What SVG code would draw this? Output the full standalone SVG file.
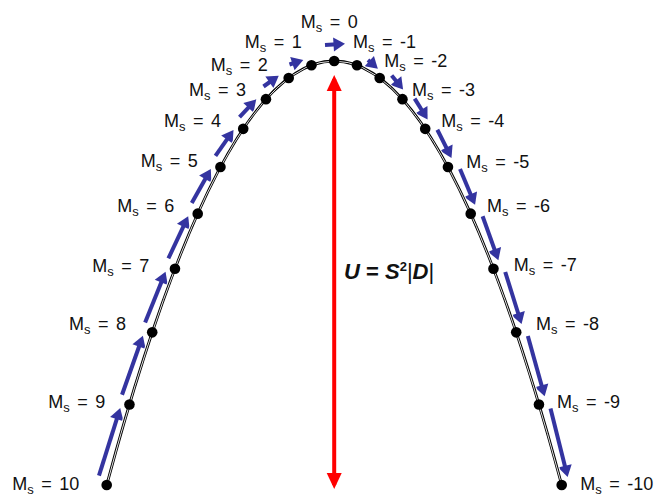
<svg xmlns="http://www.w3.org/2000/svg" width="657" height="495" viewBox="0 0 657 495">
<style>
.lb{font-family:"Liberation Sans",Arial,Helvetica,sans-serif;font-size:18px;fill:#111;word-spacing:2.5px}
.sub{font-size:13px}
.dot{fill:#000}
.ba{fill:none;stroke:#3434a0;stroke-width:4;marker-end:url(#bh)}
.eq{font-family:"Liberation Sans",Arial,Helvetica,sans-serif;font-size:22px;fill:#111;font-weight:bold}
</style>
<defs>
<marker id="bh" markerUnits="userSpaceOnUse" viewBox="-9 -9 18 18" markerWidth="18" markerHeight="18" refX="0" refY="0" orient="auto">
<path d="M-7.5,-7 L4,0 L-7.5,7 z" fill="#3434a0"/>
</marker>
<marker id="rh" markerUnits="userSpaceOnUse" viewBox="-13 -9 18 18" markerWidth="18" markerHeight="18" refX="0" refY="0" orient="auto-start-reverse">
<path d="M-12,-7.5 L4,0 L-12,7.5 z" fill="#ff0000"/>
</marker>
</defs>
<rect width="657" height="495" fill="#fff"/>
<g id="connectors">
<g id="transitions">
<path class="ba" d="M98.98,475.55 L119.03,411.89"/>
<path class="ba" d="M122.02,394.76 L141.56,339.49"/>
<path class="ba" d="M145.14,322.40 L164.05,275.48"/>
<path class="ba" d="M168.38,258.47 L186.49,219.83"/>
<path class="ba" d="M191.78,202.96 L208.88,172.48"/>
<path class="ba" d="M215.45,155.87 L231.21,133.33"/>
<path class="ba" d="M239.52,117.20 L253.52,102.23"/>
<path class="ba" d="M263.5,86.5 L275.5,78"/>
<path class="ba" d="M289.5,64.5 L299.5,61.2"/>
<path class="ba" d="M325,45 L341,44"/>
<path class="ba" d="M367.94,59.93 L374.88,66.10"/>
<path class="ba" d="M391.64,75.42 L400.59,86.49"/>
<path class="ba" d="M414.64,98.63 L425.47,116.04"/>
<path class="ba" d="M437.37,129.73 L449.70,154.32"/>
<path class="ba" d="M460.01,168.91 L473.51,201.15"/>
<path class="ba" d="M482.62,216.30 L497.03,256.46"/>
<path class="ba" d="M505.22,271.98 L520.36,320.25"/>
<path class="ba" d="M527.84,336.03 L543.57,392.50"/>
<path class="ba" d="M550.48,408.46 L566.68,473.20"/>
</g>
<g id="curve" fill="none">
<path d="M106.7,485 Q334.2,-363 561.7,485" stroke="#fff" stroke-width="5"/>
<path d="M106.7,485 Q334.2,-363 561.7,485" stroke="#000" stroke-width="2.8"/>
<path d="M106.7,485 Q334.2,-363 561.7,485" stroke="#fff" stroke-width="0.9"/>
</g>
<path id="barrier" d="M334.2,79 V485" stroke="#ff0000" stroke-width="4" marker-start="url(#rh)" marker-end="url(#rh)"/>
</g>
<g id="ms10"><circle class="dot" cx="106.7" cy="485" r="5.3"/><text class="lb" x="79.3" y="490" text-anchor="end">M<tspan class="sub" dy="4">s</tspan><tspan dy="-4"> = 10</tspan></text></g>
<g id="ms9"><circle class="dot" cx="129.45" cy="404.44" r="5.3"/><text class="lb" x="105.3" y="408" text-anchor="end">M<tspan class="sub" dy="4">s</tspan><tspan dy="-4"> = 9</tspan></text></g>
<g id="ms8"><circle class="dot" cx="152.2" cy="332.36" r="5.3"/><text class="lb" x="126" y="329.5" text-anchor="end">M<tspan class="sub" dy="4">s</tspan><tspan dy="-4"> = 8</tspan></text></g>
<g id="ms7"><circle class="dot" cx="174.95" cy="268.76" r="5.3"/><text class="lb" x="149.3" y="271.5" text-anchor="end">M<tspan class="sub" dy="4">s</tspan><tspan dy="-4"> = 7</tspan></text></g>
<g id="ms6"><circle class="dot" cx="197.7" cy="213.64" r="5.3"/><text class="lb" x="174.3" y="211.5" text-anchor="end">M<tspan class="sub" dy="4">s</tspan><tspan dy="-4"> = 6</tspan></text></g>
<g id="ms5"><circle class="dot" cx="220.45" cy="167" r="5.3"/><text class="lb" x="197.7" y="166.5" text-anchor="end">M<tspan class="sub" dy="4">s</tspan><tspan dy="-4"> = 5</tspan></text></g>
<g id="ms4"><circle class="dot" cx="243.2" cy="128.84" r="5.3"/><text class="lb" x="221" y="126.5" text-anchor="end">M<tspan class="sub" dy="4">s</tspan><tspan dy="-4"> = 4</tspan></text></g>
<g id="ms3"><circle class="dot" cx="265.95" cy="99.16" r="5.3"/><text class="lb" x="246" y="96" text-anchor="end">M<tspan class="sub" dy="4">s</tspan><tspan dy="-4"> = 3</tspan></text></g>
<g id="ms2"><circle class="dot" cx="288.7" cy="77.96" r="5.3"/><text class="lb" x="267.7" y="70.5" text-anchor="end">M<tspan class="sub" dy="4">s</tspan><tspan dy="-4"> = 2</tspan></text></g>
<g id="ms1"><circle class="dot" cx="311.45" cy="65.24" r="5.3"/><text class="lb" x="301.7" y="48" text-anchor="end">M<tspan class="sub" dy="4">s</tspan><tspan dy="-4"> = 1</tspan></text></g>
<g id="ms0"><circle class="dot" cx="334.2" cy="61" r="5.3"/><text class="lb" x="300.8" y="28">M<tspan class="sub" dy="4">s</tspan><tspan dy="-4"> = 0</tspan></text></g>
<g id="msm1"><circle class="dot" cx="356.95" cy="65.24" r="5.3"/><text class="lb" x="353" y="48">M<tspan class="sub" dy="4">s</tspan><tspan dy="-4"> = -1</tspan></text></g>
<g id="msm2"><circle class="dot" cx="379.7" cy="77.96" r="5.3"/><text class="lb" x="384.3" y="67">M<tspan class="sub" dy="4">s</tspan><tspan dy="-4"> = -2</tspan></text></g>
<g id="msm3"><circle class="dot" cx="402.45" cy="99.16" r="5.3"/><text class="lb" x="412" y="96">M<tspan class="sub" dy="4">s</tspan><tspan dy="-4"> = -3</tspan></text></g>
<g id="msm4"><circle class="dot" cx="425.2" cy="128.84" r="5.3"/><text class="lb" x="441.3" y="126.5">M<tspan class="sub" dy="4">s</tspan><tspan dy="-4"> = -4</tspan></text></g>
<g id="msm5"><circle class="dot" cx="447.95" cy="167" r="5.3"/><text class="lb" x="466.3" y="168">M<tspan class="sub" dy="4">s</tspan><tspan dy="-4"> = -5</tspan></text></g>
<g id="msm6"><circle class="dot" cx="470.7" cy="213.64" r="5.3"/><text class="lb" x="487" y="211.5">M<tspan class="sub" dy="4">s</tspan><tspan dy="-4"> = -6</tspan></text></g>
<g id="msm7"><circle class="dot" cx="493.45" cy="268.76" r="5.3"/><text class="lb" x="513.7" y="270.5">M<tspan class="sub" dy="4">s</tspan><tspan dy="-4"> = -7</tspan></text></g>
<g id="msm8"><circle class="dot" cx="516.2" cy="332.36" r="5.3"/><text class="lb" x="536" y="330">M<tspan class="sub" dy="4">s</tspan><tspan dy="-4"> = -8</tspan></text></g>
<g id="msm9"><circle class="dot" cx="538.95" cy="404.44" r="5.3"/><text class="lb" x="557" y="407.5">M<tspan class="sub" dy="4">s</tspan><tspan dy="-4"> = -9</tspan></text></g>
<g id="msm10"><circle class="dot" cx="561.7" cy="485" r="5.3"/><text class="lb" x="580.3" y="490">M<tspan class="sub" dy="4">s</tspan><tspan dy="-4"> = -10</tspan></text></g>
<g id="barrier-label"><text class="eq" x="344" y="279"><tspan font-style="italic">U</tspan> = <tspan font-style="italic">S</tspan><tspan font-size="13" dy="-8">2</tspan><tspan dy="8" font-weight="normal">|</tspan><tspan font-style="italic">D</tspan><tspan font-weight="normal">|</tspan></text></g>
</svg>
